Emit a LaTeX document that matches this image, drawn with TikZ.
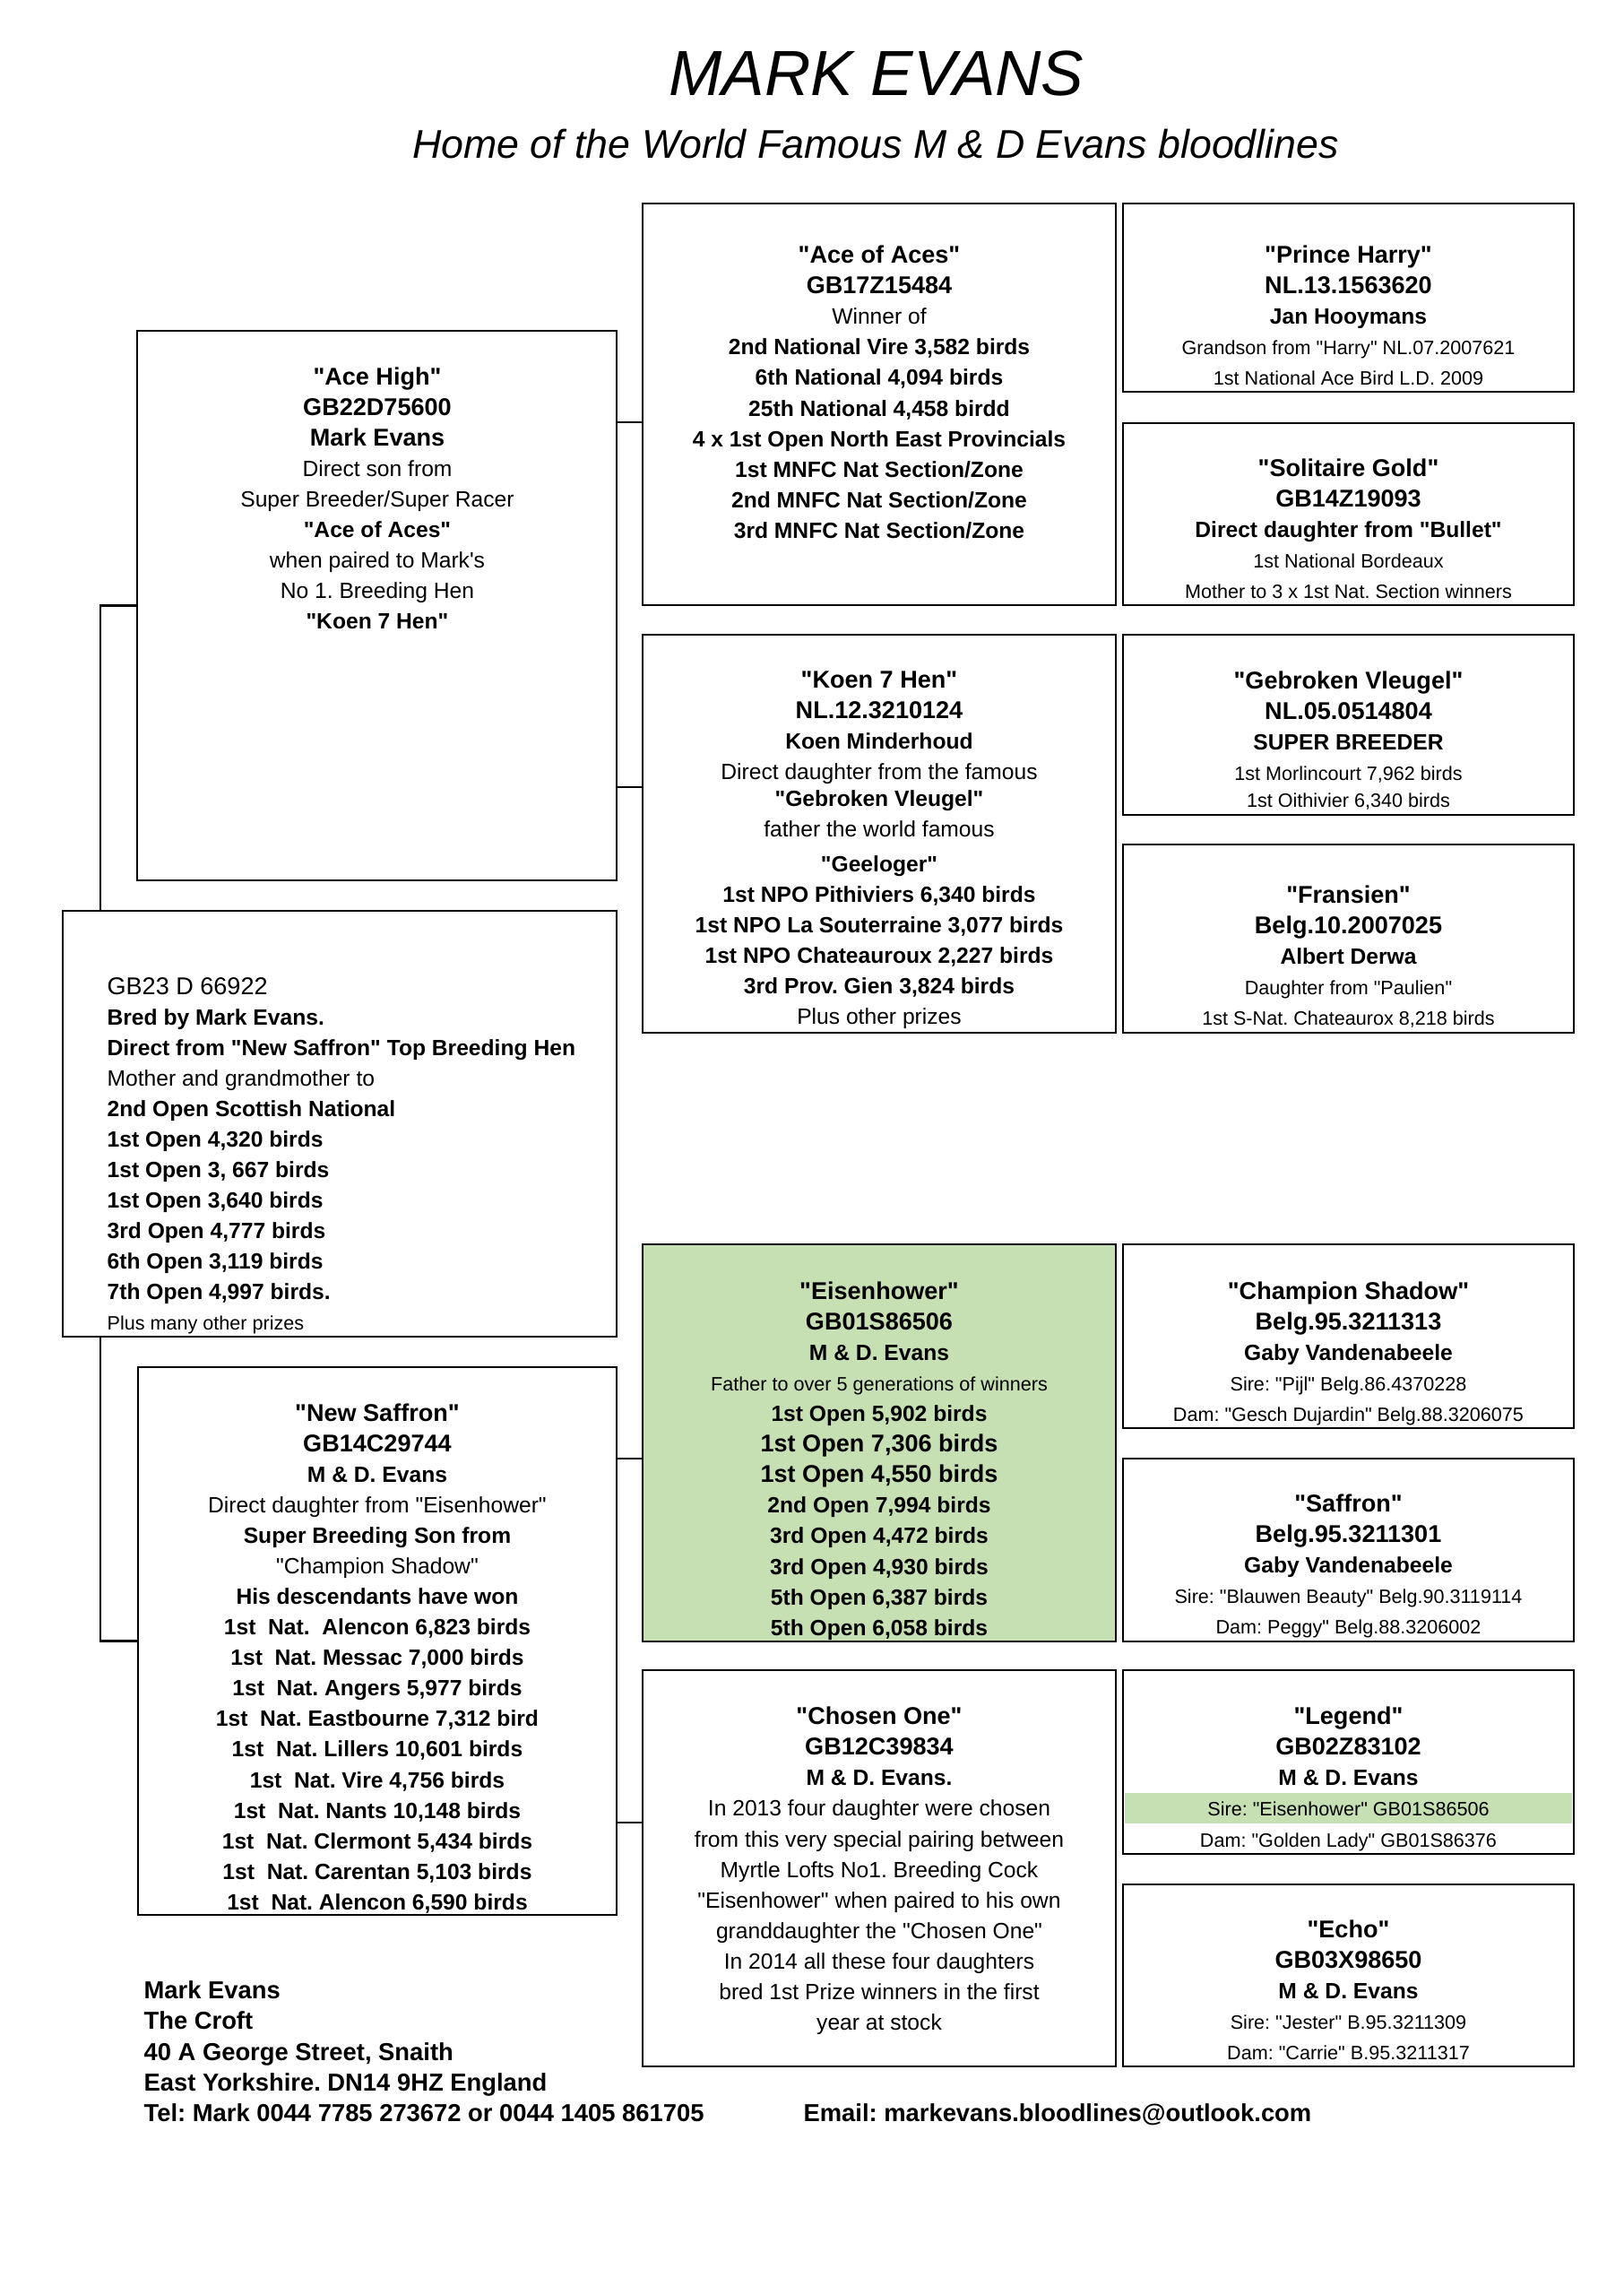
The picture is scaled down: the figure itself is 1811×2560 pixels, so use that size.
\documentclass[tikz,border=0pt]{standalone}
\usepackage{fontspec}
\setmainfont{Liberation Sans}
\newfontfamily\arialfont{Liberation Sans}
\usetikzlibrary{fit}
\frenchspacing

\definecolor{pedgreen}{RGB}{198,224,180}

% text sizes used in the pedigree boxes
\newcommand{\txhd}{\arialfont\fontsize{8.9}{11.2}\selectfont\bfseries}
\newcommand{\txbd}{\arialfont\fontsize{8.1}{11.2}\selectfont\bfseries}
\newcommand{\txrg}{\arialfont\fontsize{8.1}{11.2}\selectfont\mdseries}
\newcommand{\txsm}{\arialfont\fontsize{7.1}{11.2}\selectfont\mdseries}

\begin{document}
\begin{tikzpicture}[
    x=0.3288pt, y=-0.3288pt,
    box/.style={rectangle, draw=black, line width=0.8pt, fill=white, inner sep=0pt},
    txt/.style={align=center, anchor=north, inner sep=0pt, font=\txrg, execute at begin node=\strut},
    link/.style={draw=black, line width=0.8pt}
]
\useasboundingbox (0,0) rectangle (1811,2560);

% Title
\node[anchor=base, inner sep=0pt, font=\arialfont\itshape\fontsize{23.4}{28}\selectfont] (title) at (978,107) {MARK EVANS};
\node[anchor=base, inner sep=0pt, font=\arialfont\itshape\fontsize{14.7}{18}\selectfont] (subtitle) at (977,177) {Home of the World Famous M \& D Evans bloodlines};

% Parents
\node[box, fit={(153,369) (688,982)}] (acehigh) {};
\node[box, fit={(154,1525) (688,2136)}] (newsaffron) {};

% Grandparents
\node[box, fit={(717,227) (1245,675)}] (aceofaces) {};
\node[box, fit={(717,708) (1245,1152)}] (koen) {};
\node[box, fill=pedgreen, fit={(717,1388) (1245,1831)}] (eisenhower) {};
\node[box, fit={(717,1863) (1245,2305)}] (chosenone) {};

% Great grandparents
\node[box, fit={(1253,227) (1756,437)}] (princeharry) {};
\node[box, fit={(1253,472) (1756,675)}] (solitaire) {};
\node[box, fit={(1253,708) (1756,909)}] (gebroken) {};
\node[box, fit={(1253,942) (1756,1152)}] (fransien) {};
\node[box, fit={(1253,1388) (1756,1593)}] (championshadow) {};
\node[box, fit={(1253,1627) (1756,1831)}] (saffron) {};
\node[box, fit={(1253,1863) (1756,2068)}] (legend) {};
\node[box, fit={(1253,2102) (1756,2305)}] (echo) {};
\node[fill=pedgreen, inner sep=0pt, fit={(1255,2000) (1754,2034)}] (sireband) {};

% Connectors
\draw[link] (acehigh.west) -- ++(-40,0) |- (newsaffron.west);
\draw[link] (acehigh.east |- 0,471) -- (aceofaces.west |- 0,471);
\draw[link] (acehigh.east |- 0,878) -- (koen.west |- 0,878);
\draw[link] (newsaffron.east |- 0,1627) -- (eisenhower.west |- 0,1627);
\draw[link] (newsaffron.east |- 0,2033) -- (chosenone.west |- 0,2033);

% The bird itself
\node[box, fit={(70,1016) (688,1491)}] (gb23) {};

% Texts
\node[txt] (acehigh-txt) at (421,409) {\txhd "Ace High"\\
  \txhd GB22D75600\\
  \txhd Mark Evans\\
  \txrg Direct son from\\
  \txrg Super Breeder/Super Racer\\
  \txbd "Ace of Aces"\\
  \txrg when paired to Mark's\\
  \txrg No 1. Breeding Hen\\
  \txbd "Koen 7 Hen"};

\node[txt, align=left, anchor=north west] (gb23-txt) at (119,1089.5) {\txhd\mdseries GB23 D 66922\\
  \txbd Bred by Mark Evans.\\
  \txbd Direct from "New Saffron" Top Breeding Hen\\
  \txrg Mother and grandmother to\\
  \txbd 2nd Open Scottish National\\
  \txbd 1st Open 4,320 birds\\
  \txbd 1st Open 3, 667 birds\\
  \txbd 1st Open 3,640 birds\\
  \txbd 3rd Open 4,777 birds\\
  \txbd 6th Open 3,119 birds\\
  \txbd 7th Open 4,997 birds.\\
  \txsm Plus many other prizes};

\node[txt] (newsaffron-txt) at (421,1565) {\txhd "New Saffron"\\
  \txhd GB14C29744\\
  \txbd M \& D. Evans\\
  \txrg Direct daughter from "Eisenhower"\\
  \txbd Super Breeding Son from\\
  \txrg "Champion Shadow"\\
  \txbd His descendants have won\\
  \txbd 1st\ \ Nat.\ \ Alencon 6,823 birds\\
  \txbd 1st\ \ Nat. Messac 7,000 birds\\
  \txbd 1st\ \ Nat. Angers 5,977 birds\\
  \txbd 1st\ \ Nat. Eastbourne 7,312 bird\\
  \txbd 1st\ \ Nat. Lillers 10,601 birds\\
  \txbd 1st\ \ Nat. Vire 4,756 birds\\
  \txbd 1st\ \ Nat. Nants 10,148 birds\\
  \txbd 1st\ \ Nat. Clermont 5,434 birds\\
  \txbd 1st\ \ Nat. Carentan 5,103 birds\\
  \txbd 1st\ \ Nat. Alencon 6,590 birds};

\node[txt] (aceofaces-txt) at (981,273.5) {\txhd "Ace of Aces"\\
  \txhd GB17Z15484\\
  \txrg Winner of\\
  \txbd 2nd National Vire 3,582 birds\\
  \txbd 6th National 4,094 birds\\
  \txbd 25th National 4,458 birdd\\
  \txbd 4 x 1st Open North East Provincials\\
  \txbd 1st MNFC Nat Section/Zone\\
  \txbd 2nd MNFC Nat Section/Zone\\
  \txbd 3rd MNFC Nat Section/Zone};

\node[txt] (koen-txt) at (981,748.5) {\txhd "Koen 7 Hen"\\
  \txhd NL.12.3210124\\
  \txbd Koen Minderhoud\\
  \txrg Direct daughter from the famous\\[-1.6pt]
  \txbd "Gebroken Vleugel"\\
  \txrg father the world famous\\[1.6pt]
  \txbd "Geeloger"\\
  \txbd 1st NPO Pithiviers 6,340 birds\\
  \txbd 1st NPO La Souterraine 3,077 birds\\
  \txbd 1st NPO Chateauroux 2,227 birds\\
  \txbd 3rd Prov. Gien 3,824 birds\\
  \txrg Plus other prizes};

\node[txt] (eisenhower-txt) at (981,1429.2) {\txhd "Eisenhower"\\
  \txhd GB01S86506\\
  \txbd M \& D. Evans\\
  \txsm Father to over 5 generations of winners\\
  \txbd 1st Open 5,902 birds\\
  \txhd 1st Open 7,306 birds\\
  \txhd 1st Open 4,550 birds\\
  \txbd 2nd Open 7,994 birds\\
  \txbd 3rd Open 4,472 birds\\
  \txbd 3rd Open 4,930 birds\\
  \txbd 5th Open 6,387 birds\\
  \txbd 5th Open 6,058 birds};

\node[txt] (chosenone-txt) at (981,1903.5) {\txhd "Chosen One"\\
  \txhd GB12C39834\\
  \txbd M \& D. Evans.\\
  \txrg In 2013 four daughter were chosen\\
  \txrg from this very special pairing between\\
  \txrg Myrtle Lofts No1. Breeding Cock\\
  \txrg "Eisenhower" when paired to his own\\
  \txrg granddaughter the "Chosen One"\\
  \txrg In 2014 all these four daughters\\
  \txrg bred 1st Prize winners in the first\\
  \txrg year at stock};

\node[txt] (princeharry-txt) at (1504.5,273.5) {\txhd "Prince Harry"\\
  \txhd NL.13.1563620\\
  \txbd Jan Hooymans\\
  \txsm Grandson from "Harry" NL.07.2007621\\
  \txsm 1st National Ace Bird L.D. 2009};

\node[txt] (solitaire-txt) at (1504.5,510.9) {\txhd "Solitaire Gold"\\
  \txhd GB14Z19093\\
  \txbd Direct daughter from "Bullet"\\
  \txsm 1st National Bordeaux\\
  \txsm Mother to 3 x 1st Nat. Section winners};

\node[txt] (gebroken-txt) at (1504.5,748.5) {\txhd "Gebroken Vleugel"\\
  \txhd NL.05.0514804\\
  \txbd SUPER BREEDER\\
  \txsm 1st Morlincourt 7,962 birds\\[-1.6pt]
  \txsm 1st Oithivier 6,340 birds};

\node[txt] (fransien-txt) at (1504.5,986.9) {\txhd "Fransien"\\
  \txhd Belg.10.2007025\\
  \txbd Albert Derwa\\
  \txsm Daughter from "Paulien"\\
  \txsm 1st S-Nat. Chateaurox 8,218 birds};

\node[txt] (championshadow-txt) at (1504.5,1429.2) {\txhd "Champion Shadow"\\
  \txhd Belg.95.3211313\\
  \txbd Gaby Vandenabeele\\
  \txsm Sire: "Pijl" Belg.86.4370228\\
  \txsm Dam: "Gesch Dujardin" Belg.88.3206075};

\node[txt] (saffron-txt) at (1504.5,1666.2) {\txhd "Saffron"\\
  \txhd Belg.95.3211301\\
  \txbd Gaby Vandenabeele\\
  \txsm Sire: "Blauwen Beauty" Belg.90.3119114\\
  \txsm Dam: Peggy" Belg.88.3206002};

\node[txt] (legend-txt) at (1504.5,1903.5) {\txhd "Legend"\\
  \txhd GB02Z83102\\
  \txbd M \& D. Evans\\
  \txsm Sire: "Eisenhower" GB01S86506\\
  \txsm Dam: "Golden Lady" GB01S86376};

\node[txt] (echo-txt) at (1504.5,2140.9) {\txhd "Echo"\\
  \txhd GB03X98650\\
  \txbd M \& D. Evans\\
  \txsm Sire: "Jester" B.95.3211309\\
  \txsm Dam: "Carrie" B.95.3211317};

% Address
\node[txt, align=left, anchor=north west, font=\arialfont\bfseries\fontsize{9}{11.3}\selectfont] (address) at (160,2209) {Mark Evans\\
  The Croft\\
  40 A George Street, Snaith\\
  East Yorkshire. DN14 9HZ England\\
  Tel: Mark 0044 7785 273672 or 0044 1405 861705};
\node[anchor=base west, inner sep=0pt, font=\arialfont\bfseries\fontsize{9}{11.3}\selectfont] (email) at (896,2366) {Email: markevans.bloodlines@outlook.com};

\end{tikzpicture}
\end{document}
